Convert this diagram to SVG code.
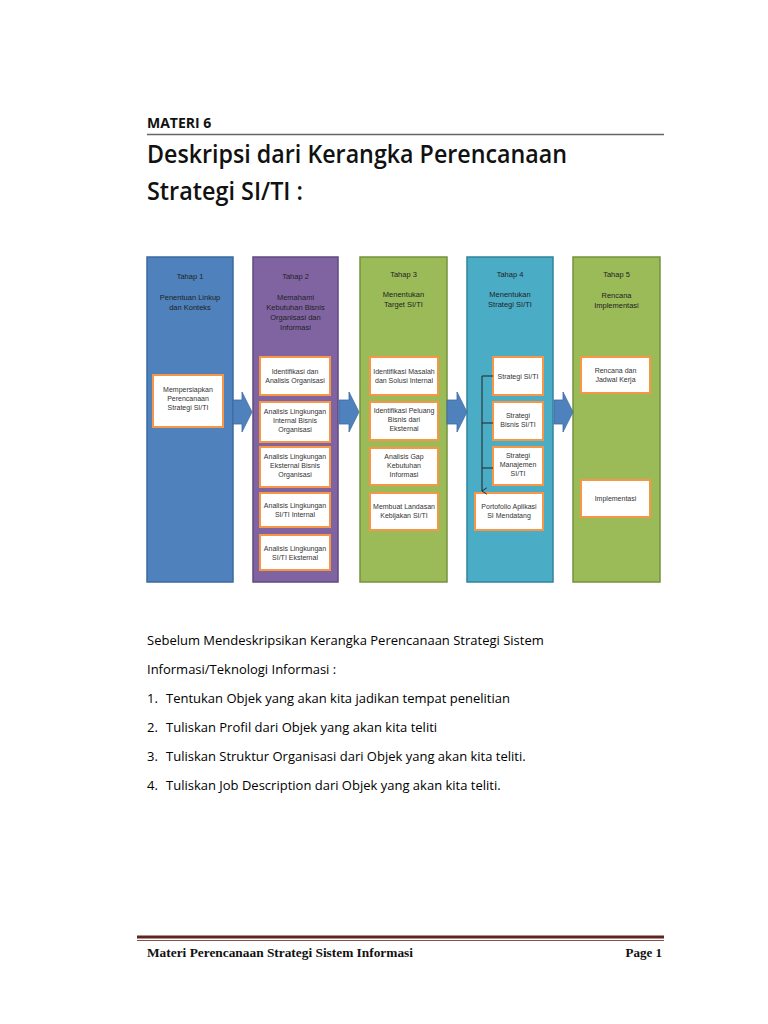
<svg xmlns="http://www.w3.org/2000/svg" width="768" height="1024" viewBox="0 0 768 1024">
<style>
.col{stroke-width:1.5}
.box{fill:#fff;stroke:#F79646;stroke-width:2}
.t{font-family:"Liberation Sans",Arial,sans-serif;font-size:7px;fill:#333;text-anchor:middle}
.h{font-family:"Liberation Sans",Arial,sans-serif;font-size:7.5px;fill:#222;text-anchor:middle}
.body{font-family:"Open Sans","Noto Sans",sans-serif;font-size:13px;fill:#000}
.arr{fill:#4F81BD;stroke:#3A6BA5;stroke-width:0.8}
</style>
<defs>
<marker id="v" viewBox="0 0 10 10" refX="5" refY="9" markerWidth="8" markerHeight="8" orient="auto-start-reverse" markerUnits="userSpaceOnUse">
<path d="M1,3 L5,9 L9,3" fill="none" stroke="#222" stroke-width="1.2"/>
</marker>
</defs>
<rect width="768" height="1024" fill="#fff"/>
<text x="147" y="128" font-family="Open Sans,Noto Sans,sans-serif" font-weight="bold" font-size="14" fill="#111">MATERI 6</text>
<line x1="147" y1="134.5" x2="664" y2="134.5" stroke="#666" stroke-width="1.5"/>
<text x="147" y="163" font-family="Open Sans,Noto Sans,sans-serif" font-weight="600" font-size="24.5" fill="#111" textLength="420" lengthAdjust="spacingAndGlyphs">Deskripsi dari Kerangka Perencanaan</text>
<text x="147" y="200" font-family="Open Sans,Noto Sans,sans-serif" font-weight="600" font-size="24.5" fill="#111" textLength="156" lengthAdjust="spacingAndGlyphs">Strategi SI/TI :</text>

<g id="tahap1">
<rect class="col" x="147" y="257" width="86" height="325" fill="#4F81BD" stroke="#3B6AA0"/>
<text class="h" x="190" y="279">Tahap 1</text>
<text class="h" x="190" y="300">Penentuan Linkup</text>
<text class="h" x="190" y="310">dan Konteks</text>
<rect class="box" x="153" y="375" width="70" height="52"/>
<text class="t" x="188" y="392">Mempersiapkan</text>
<text class="t" x="188" y="401">Perencanaan</text>
<text class="t" x="188" y="410">Strategi SI/TI</text>
</g>

<g id="tahap2">
<rect class="col" x="253" y="257" width="85" height="325" fill="#8064A2" stroke="#5F4A80"/>
<text class="h" x="295.5" y="279">Tahap 2</text>
<text class="h" x="295.5" y="300">Memahami</text>
<text class="h" x="295.5" y="310">Kebutuhan Bisnis</text>
<text class="h" x="295.5" y="320">Organisasi dan</text>
<text class="h" x="295.5" y="330">Informasi</text>
<rect class="box" x="260" y="357" width="70" height="38"/>
<text class="t" x="295" y="374">Identifikasi dan</text>
<text class="t" x="295" y="383">Analisis Organisasi</text>
<rect class="box" x="260" y="402" width="70" height="40"/>
<text class="t" x="295" y="414">Analisis Lingkungan</text>
<text class="t" x="295" y="423">Internal Bisnis</text>
<text class="t" x="295" y="432">Organisasi</text>
<rect class="box" x="260" y="447" width="70" height="40"/>
<text class="t" x="295" y="459">Analisis Lingkungan</text>
<text class="t" x="295" y="468">Eksternal Bisnis</text>
<text class="t" x="295" y="477">Organisasi</text>
<rect class="box" x="260" y="493" width="70" height="34"/>
<text class="t" x="295" y="508">Analisis Lingkungan</text>
<text class="t" x="295" y="517">SI/TI Internal</text>
<rect class="box" x="260" y="535" width="70" height="35"/>
<text class="t" x="295" y="551">Analisis Lingkungan</text>
<text class="t" x="295" y="560">SI/TI Eksternal</text>
</g>

<g id="tahap3">
<rect class="col" x="360" y="257" width="87" height="325" fill="#9BBB59" stroke="#76923C"/>
<text class="h" x="403.5" y="277">Tahap 3</text>
<text class="h" x="403.5" y="297">Menentukan</text>
<text class="h" x="403.5" y="307">Target SI/TI</text>
<rect class="box" x="370" y="357" width="68" height="38"/>
<text class="t" x="404" y="374">Identifikasi Masalah</text>
<text class="t" x="404" y="383">dan Solusi Internal</text>
<rect class="box" x="370" y="402" width="68" height="38"/>
<text class="t" x="404" y="413">Identifikasi Peluang</text>
<text class="t" x="404" y="422">Bisnis dari</text>
<text class="t" x="404" y="431">Eksternal</text>
<rect class="box" x="370" y="448" width="68" height="37"/>
<text class="t" x="404" y="459">Analisis Gap</text>
<text class="t" x="404" y="468">Kebutuhan</text>
<text class="t" x="404" y="477">Informasi</text>
<rect class="box" x="370" y="493" width="68" height="37"/>
<text class="t" x="404" y="509">Membuat Landasan</text>
<text class="t" x="404" y="518">Kebijakan SI/TI</text>
</g>

<g id="tahap4">
<rect class="col" x="467" y="257" width="86" height="325" fill="#4BACC6" stroke="#31849B"/>
<text class="h" x="510" y="277">Tahap 4</text>
<text class="h" x="510" y="297">Menentukan</text>
<text class="h" x="510" y="307">Strategi SI/TI</text>
<rect class="box" x="493" y="357" width="50" height="38"/>
<text class="t" x="518" y="379">Strategi SI/TI</text>
<rect class="box" x="493" y="402" width="50" height="38"/>
<text class="t" x="518" y="418">Strategi</text>
<text class="t" x="518" y="427">Bisnis SI/TI</text>
<rect class="box" x="493" y="447" width="50" height="38"/>
<text class="t" x="518" y="458">Strategi</text>
<text class="t" x="518" y="467">Manajemen</text>
<text class="t" x="518" y="476">SI/TI</text>
<rect class="box" x="475" y="493" width="68" height="37"/>
<text class="t" x="509" y="509">Portofolio Aplikasi</text>
<text class="t" x="509" y="518">SI Mendatang</text>
</g>

<g id="tahap5">
<rect class="col" x="573" y="257" width="87" height="325" fill="#9BBB59" stroke="#76923C"/>
<text class="h" x="616.5" y="277">Tahap 5</text>
<text class="h" x="616.5" y="298">Rencana</text>
<text class="h" x="616.5" y="308">Implementasi</text>
<rect class="box" x="581" y="357" width="69" height="36"/>
<text class="t" x="615.5" y="373">Rencana dan</text>
<text class="t" x="615.5" y="382">Jadwal Kerja</text>
<rect class="box" x="581" y="480" width="69" height="37"/>
<text class="t" x="615.5" y="501">Implementasi</text>
</g>

<g id="connectors">
<path class="arr" d="M233,400 L242,400 L242,392 L252,412 L242,432 L242,424 L233,424 Z"/>
<path class="arr" d="M339,400 L349,400 L349,392 L359,412 L349,432 L349,424 L339,424 Z"/>
<path class="arr" d="M447,400 L457,400 L457,392 L467,412 L457,432 L457,424 L447,424 Z"/>
<path class="arr" d="M554,400 L563,400 L563,392 L573,412 L563,432 L563,424 L554,424 Z"/>
<path d="M482,376 L482,491" fill="none" stroke="#222" stroke-width="1" marker-end="url(#v)"/>
<path d="M482,376 L493,376 M482,423 L493,423 M482,468 L493,468" fill="none" stroke="#222" stroke-width="1"/>
</g>

<text class="body" x="147" y="645">Sebelum Mendeskripsikan Kerangka Perencanaan Strategi Sistem</text>
<text class="body" x="147" y="674">Informasi/Teknologi Informasi :</text>
<text class="body" x="147" y="703">1.</text><text class="body" x="166" y="703">Tentukan Objek yang akan kita jadikan tempat penelitian</text>
<text class="body" x="147" y="732">2.</text><text class="body" x="166" y="732">Tuliskan Profil dari Objek yang akan kita teliti</text>
<text class="body" x="147" y="761">3.</text><text class="body" x="166" y="761">Tuliskan Struktur Organisasi dari Objek yang akan kita teliti.</text>
<text class="body" x="147" y="790">4.</text><text class="body" x="166" y="790">Tuliskan Job Description dari Objek yang akan kita teliti.</text>

<line x1="137" y1="937" x2="664" y2="937" stroke="#622423" stroke-width="3"/>
<line x1="137" y1="940.5" x2="664" y2="940.5" stroke="#622423" stroke-width="0.8"/>
<text x="147" y="957" font-family="Liberation Serif,DejaVu Serif,serif" font-weight="bold" font-size="13" fill="#111" textLength="266" lengthAdjust="spacingAndGlyphs">Materi Perencanaan Strategi Sistem Informasi</text>
<text x="662" y="957" text-anchor="end" font-family="Liberation Serif,DejaVu Serif,serif" font-weight="bold" font-size="13" fill="#111">Page 1</text>
</svg>
